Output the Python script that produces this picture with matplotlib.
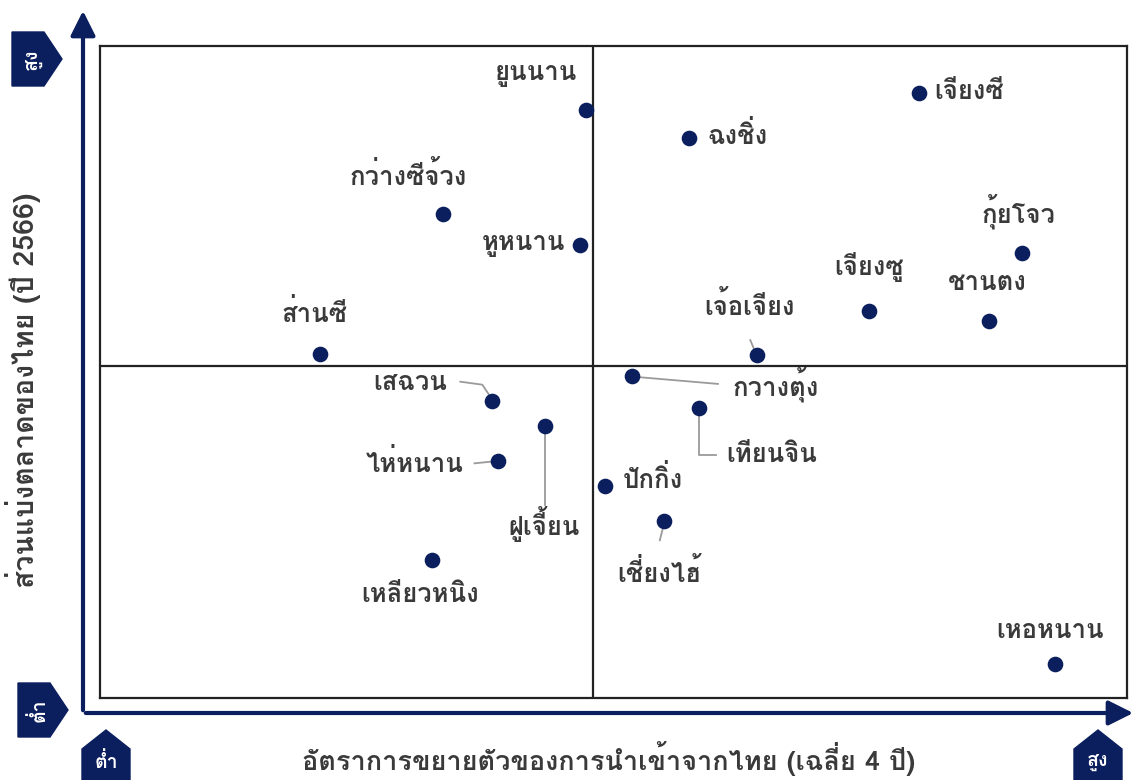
import matplotlib
matplotlib.use('Agg')
import matplotlib.pyplot as plt
from matplotlib import font_manager
from matplotlib.ft2font import FT2Font
from matplotlib.patches import Polygon, FancyArrowPatch

# หา font ที่มีอักษรไทย
thai_font = None
for f in font_manager.fontManager.ttflist:
    try:
        if 0x0E01 in FT2Font(f.fname).get_charmap():
            thai_font = f.name
            break
    except Exception:
        pass
families = [thai_font, 'DejaVu Sans'] if thai_font else ['DejaVu Sans']
plt.rcParams['font.family'] = families

# ข้อมูล
provinces = ['ยูนนาน', 'ฉงชิ่ง', 'เจียงซี', 'กว่างซีจ้วง', 'หูหนาน', 'กุ้ยโจว',
             'เจียงซู', 'ชานตง', 'ส่านซี', 'เจ้อเจียง', 'กวางตุ้ง', 'เสฉวน',
             'ฝูเจี้ยน', 'เทียนจิน', 'ไห่หนาน', 'ปักกิ่ง', 'เชี่ยงไฮ้',
             'เหลียวหนิง', 'เหอหนาน']
growth = [47.3, 57.4, 79.7, 33.4, 46.7, 89.8, 74.9, 86.6, 21.4, 64.0,
          51.8, 38.2, 43.3, 58.3, 38.8, 49.2, 54.9, 32.3, 93.0]
share = [90.2, 85.9, 92.8, 74.2, 69.5, 68.3, 59.4, 57.8, 52.8, 52.6,
         49.4, 45.6, 41.7, 44.5, 36.3, 32.5, 27.1, 21.2, 5.2]
x_mid = 48.0
y_mid = 50.9

# ตำแหน่งป้ายชื่อ (offset pixels) และแนว
label_pos = {
    'ยูนนาน': (-50, 35, 'center'),
    'ฉงชิ่ง': (18, 3, 'left'),
    'เจียงซี': (16, 1, 'left'),
    'กว่างซีจ้วง': (-35, 39, 'center'),
    'หูหนาน': (-14, 0, 'right'),
    'กุ้ยโจว': (-4, 40, 'center'),
    'เจียงซู': (0, 44, 'center'),
    'ชานตง': (-2, 38, 'center'),
    'ส่านซี': (-5, 41, 'center'),
    'เจ้อเจียง': (-8, 50, 'center'),
    'กวางตุ้ง': (101, -9, 'left'),
    'เสฉวน': (-45, 18, 'right'),
    'ฝูเจี้ยน': (-1, -98, 'center'),
    'เทียนจิน': (28, -47, 'left'),
    'ไห่หนาน': (-35, -2, 'right'),
    'ปักกิ่ง': (17, 7, 'left'),
    'เชี่ยงไฮ้': (-5, -51, 'center'),
    'เหลียวหนิง': (-12, -35, 'center'),
    'เหอหนาน': (-5, 33, 'center'),
}
# เส้นนำสายตา
leaders = {
    'เจ้อเจียง': [(-2, 3), (-7, 15)],
    'กวางตุ้ง': [(4, -1), (86, -8)],
    'เสฉวน': [(-2, 4), (-10, 16), (-32, 19)],
    'ฝูเจี้ยน': [(0, -4), (0, -79)],
    'เทียนจิน': [(0, -4), (0, -47), (17, -47)],
    'ไห่หนาน': [(-4, 0), (-24, -2)],
    'เชี่ยงไฮ้': [(0, -3), (-4, -19)],
}

navy = '#0b1f5e'
txt = '#3a3a3a'
W, H = 1136, 780
fig = plt.figure(figsize=(W / 100, H / 100), dpi=100)
ax = fig.add_axes([100 / W, 1 - 698 / H, 1027 / W, 652 / H])
ax.set_xlim(0, 100)
ax.set_ylim(0, 100)
ax.set_xticks([])
ax.set_yticks([])
for s in ax.spines.values():
    s.set_linewidth(1.6)
    s.set_color('#222222')
ax.axvline(x_mid, color='#222222', lw=1.6)
ax.axhline(y_mid, color='#222222', lw=1.6)

ax.scatter(growth, share, s=105, color=navy, zorder=3)

for name, gx, sy in zip(provinces, growth, share):
    dx, dy, ha = label_pos[name]
    ax.annotate(name, (gx, sy), xytext=(dx, dy), textcoords='offset pixels',
                ha=ha, va='center', fontsize=18.5, fontweight='bold', color=txt)
    if name in leaders:
        px, py = ax.transData.transform((gx, sy))
        pts = [ax.transData.inverted().transform((px + a, py + b))
               for a, b in leaders[name]]
        ax.plot([p[0] for p in pts], [p[1] for p in pts], color='#9a9a9a',
                lw=1.3, zorder=2)

# ลูกศรแกน
for end in [(83, 8), (1136, 713)]:
    fig.add_artist(FancyArrowPatch(
        (83 / W, 1 - 713 / H), (end[0] / W, 1 - end[1] / H),
        transform=fig.transFigure,
        arrowstyle='-|>,head_length=10,head_width=5', color=navy, lw=3,
        mutation_scale=1.5))

fig.text(609 / W, 1 - 759 / H, 'อัตราการขยายตัวของการนำเข้าจากไทย (เฉลี่ย 4 ปี)',
         ha='center', va='center', fontsize=19.5, fontweight='bold', color=txt)
fig.text(23 / W, 1 - 390 / H, 'ส่วนแบ่งตลาดของไทย (ปี 2566)', rotation=90,
         ha='center', va='center', fontsize=20.5, fontweight='bold', color=txt)


# ป้ายสูง/ต่ำ
def badge(cx, cy, text, up):
    w, h = 24, 27
    if up:
        pts = [(cx - w, cy + h), (cx - w, cy - 8), (cx, cy - h),
               (cx + w, cy - 8), (cx + w, cy + h)]
        rot = 0
    else:
        pts = [(cx - w, cy - h), (cx + 8, cy - h), (cx + w + 2, cy),
               (cx + 8, cy + h), (cx - w, cy + h)]
        rot = 90
    fig.add_artist(Polygon([(x / W, 1 - y / H) for x, y in pts], closed=True,
                           transform=fig.transFigure, color=navy))
    tx = cx - (3 if not up else 0)
    ty = cy + (5 if up else 0)
    fig.text(tx / W, 1 - ty / H, text, rotation=rot,
             ha='center', va='center', color='white', fontsize=14,
             fontweight='bold')


badge(36, 59, 'สูง', False)
badge(42, 710, 'ต่ำ', False)
badge(106, 757, 'ต่ำ', True)
badge(1098, 757, 'สูง', True)

fig.savefig('out.png', dpi=100, facecolor='white')
